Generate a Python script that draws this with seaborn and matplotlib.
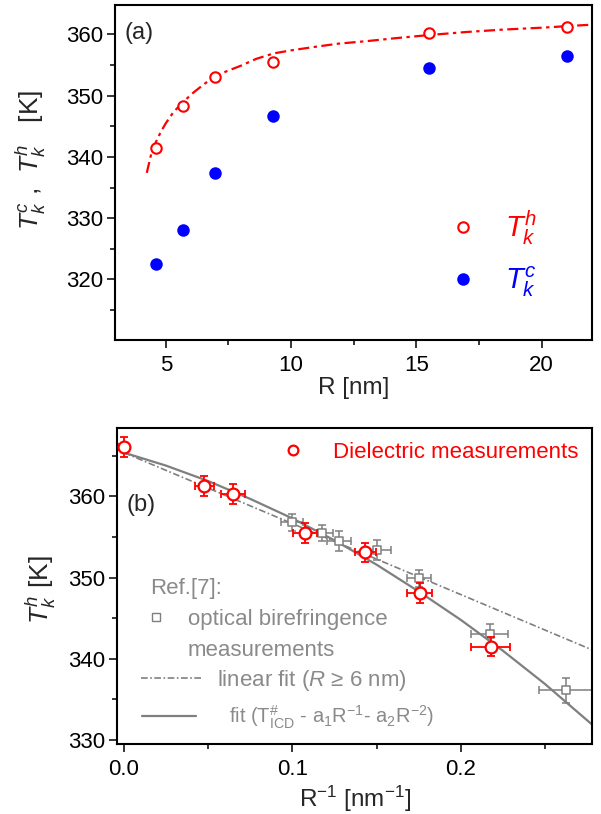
import matplotlib
matplotlib.use("Agg")
import matplotlib.pyplot as plt
from matplotlib.lines import Line2D
from matplotlib.ticker import AutoMinorLocator, FormatStrFormatter
import seaborn as sns

# panel (a): transition temperatures vs pore radius
R_nm = [4.59, 5.69, 6.98, 9.29, 15.5, 21.0]
Th_top = [341.5, 348.3, 353.1, 355.5, 360.3, 361.2]
Tc_top = [322.5, 328.1, 337.4, 346.6, 354.6, 356.5]

# fit curve
fit_R = [4.24, 4.4, 4.6, 4.8, 5.0, 5.3, 5.7, 6.1, 6.5, 7.0, 7.5, 8.0, 8.6, 9.3,
         10.0, 11.0, 11.9, 13.0, 14.2, 15.5, 17.0, 18.5, 20.0, 22.0]
fit_T = [337.4, 340.2, 342.4, 344.1, 345.5, 347.3, 349.0, 350.5, 351.8, 353.3,
         354.1, 354.9, 356.0, 356.9, 357.4, 358.0, 358.5, 358.9, 359.4, 359.9,
         360.4, 360.8, 361.1, 361.6]

# panel (b): T_k^h vs 1/R
inv_R = [0.0, 0.0476, 0.0645, 0.1075, 0.1433, 0.1757, 0.2179]
Th_diel = [366.1, 361.3, 360.3, 355.5, 353.1, 348.1, 341.5]
xerr_diel = [0.003, 0.0056, 0.0072, 0.0072, 0.0064, 0.0074, 0.0116]
yerr_diel = [1.2, 1.2, 1.2, 1.2, 1.2, 1.2, 1.2]

opt_invR = [0.0999, 0.1173, 0.1278, 0.1505, 0.1752, 0.2172, 0.2627]
opt_T = [356.8, 355.5, 354.5, 353.4, 349.9, 343.0, 336.1]
opt_xerr = [0.0065, 0.007, 0.007, 0.008, 0.007, 0.011, 0.016]
opt_yerr = [1.1, 1.0, 1.2, 1.2, 1.1, 1.3, 1.5]

lin_x = [0.0, 0.278]
lin_T = [365.4, 341.1]

curve_x = [0.0, 0.025, 0.05, 0.075, 0.1, 0.125, 0.15, 0.175, 0.2, 0.225, 0.25, 0.278]
curve_T = [365.4, 363.8, 361.9, 359.7, 357.3, 354.6, 351.6, 348.3, 344.8, 341.0, 336.9, 331.9]

RED = "#ff0000"
BLUE = "#0000ff"
GRAY = "#7f7f7f"
GRAY_TXT = "#8a8a8a"

sns.set_style("ticks")
plt.rcParams["font.family"] = ["Liberation Sans", "DejaVu Sans"]
plt.rcParams["mathtext.fontset"] = "custom"
plt.rcParams["mathtext.rm"] = "Liberation Sans"
plt.rcParams["mathtext.it"] = "Liberation Sans:italic"
plt.rcParams["mathtext.bf"] = "Liberation Sans:bold"
plt.rcParams.update({
    "axes.linewidth": 1.5,
    "axes.edgecolor": "black",
    "xtick.major.size": 6, "ytick.major.size": 6,
    "xtick.minor.size": 3.6, "ytick.minor.size": 3.6,
    "xtick.major.width": 1.1, "ytick.major.width": 1.1,
    "xtick.minor.width": 1.1, "ytick.minor.width": 1.1,
    "xtick.major.pad": 4.5, "ytick.major.pad": 2.5,
    "xtick.labelsize": 16, "ytick.labelsize": 16,
    "xtick.color": "black", "ytick.color": "black",
    "axes.labelsize": 17.5,
})

fig = plt.figure(figsize=(6.01, 8.14), dpi=100)
ax1 = fig.add_axes([0.1913, 0.5823, 0.7932, 0.4115])
ax2 = fig.add_axes([0.1952, 0.0860, 0.7899, 0.3878])

# ---- (a) ----
sns.lineplot(x=fit_R, y=fit_T, ax=ax1, color=RED, lw=1.6, sort=False,
             linestyle=(0, (5, 2, 1.5, 2)), zorder=2)
sns.scatterplot(x=R_nm, y=Th_top, ax=ax1, marker="o", s=7.5 ** 2,
                facecolor="white", edgecolor=RED, linewidth=1.5, zorder=3)
sns.scatterplot(x=R_nm, y=Tc_top, ax=ax1, marker="o", s=9 ** 2,
                color=BLUE, edgecolor=BLUE, linewidth=0, zorder=3)

ax1.set_xlim(2.97, 22.0)
ax1.set_ylim(310.1, 364.8)
ax1.set_xticks([5, 10, 15, 20])
ax1.set_yticks([320, 330, 340, 350, 360])
ax1.xaxis.set_minor_locator(AutoMinorLocator(2))
ax1.yaxis.set_minor_locator(AutoMinorLocator(2))
ax1.set_xlabel("R [nm]", labelpad=1)
ax1.set_ylabel(r"$T_k^c$ ,  $T_k^h$   [K]", fontsize=19)
ax1.yaxis.set_label_coords(-0.14, 0.537)
ax1.text(0.021, 0.916, "(a)", transform=ax1.transAxes, fontsize=17,
         ha="left", va="center")

h_hot = Line2D([], [], ls="none", marker="o", ms=7.5, mfc="white", mec=RED, mew=1.5)
h_cold = Line2D([], [], ls="none", marker="o", ms=9, mfc=BLUE, mec=BLUE, mew=0)
ax1.legend([h_hot, h_cold], [r"$T_k^h$", r"$T_k^c$"], loc="center left",
           bbox_to_anchor=(0.699, 0.257), frameon=False, fontsize=21,
           handlelength=1.0, handletextpad=0.95, labelspacing=0.6,
           borderpad=0, borderaxespad=0, labelcolor=[RED, BLUE])

# ---- (b) ----
sns.lineplot(x=lin_x, y=lin_T, ax=ax2, color=GRAY, lw=1.2, sort=False,
             linestyle=(0, (4, 1.5, 1, 1.5)), zorder=1)
sns.lineplot(x=curve_x, y=curve_T, ax=ax2, color=GRAY, lw=1.6, sort=False, zorder=1)

ax2.errorbar(opt_invR, opt_T, xerr=opt_xerr, yerr=opt_yerr, fmt="none",
             ecolor=GRAY, elinewidth=1.1, capsize=2.6, capthick=1.1, zorder=2)
sns.scatterplot(x=opt_invR, y=opt_T, ax=ax2, marker="s", s=5.5 ** 2,
                facecolor="white", edgecolor=GRAY, linewidth=1.1, zorder=3)
ax2.errorbar(inv_R, Th_diel, xerr=xerr_diel, yerr=yerr_diel, fmt="none",
             ecolor=RED, elinewidth=1.3, capsize=2.8, capthick=1.3, zorder=4)
sns.scatterplot(x=inv_R, y=Th_diel, ax=ax2, marker="o", s=8.5 ** 2,
                facecolor="white", edgecolor=RED, linewidth=1.6, zorder=5)

ax2.set_xlim(-0.004, 0.278)
ax2.set_ylim(329.5, 368.4)
ax2.set_xticks([0.0, 0.1, 0.2])
ax2.set_yticks([330, 340, 350, 360])
ax2.xaxis.set_major_formatter(FormatStrFormatter("%.1f"))
ax2.xaxis.set_minor_locator(AutoMinorLocator(2))
ax2.yaxis.set_minor_locator(AutoMinorLocator(2))
ax2.set_xlabel(r"R$^{-1}$ [nm$^{-1}$]", labelpad=3)
ax2.set_ylabel(r"$T_k^h$ [K]", fontsize=19)
ax2.yaxis.set_label_coords(-0.125, 0.488)
ax2.text(0.02, 0.757, "(b)", transform=ax2.transAxes, fontsize=17,
         ha="left", va="center")

h_diel = Line2D([], [], ls="none", marker="o", ms=7, mfc="white", mec=RED, mew=1.6)
leg_a = ax2.legend([h_diel], ["Dielectric measurements"], loc="center left",
                   bbox_to_anchor=(0.349, 0.924), frameon=False, fontsize=16,
                   handlelength=0.9, handletextpad=1.35, borderpad=0,
                   borderaxespad=0, labelcolor=RED)
ax2.add_artist(leg_a)

h_sq = Line2D([], [], ls="none", marker="s", ms=6, mfc="white", mec=GRAY, mew=1.0)
h_blank = Line2D([], [], ls="none")
leg_b = ax2.legend([h_sq, h_blank], ["optical birefringence", "measurements"],
                   title="Ref.[7]:", title_fontsize=16, alignment="left",
                   loc="upper left", bbox_to_anchor=(0.069, 0.527), frameon=False,
                   fontsize=16, handlelength=0.55, handletextpad=1.15,
                   labelspacing=0.45, borderpad=0, borderaxespad=0,
                   labelcolor=GRAY_TXT)
leg_b.get_title().set_color(GRAY_TXT)
ax2.add_artist(leg_b)

h_lin = Line2D([], [], color=GRAY, lw=1.2, linestyle=(0, (4, 1.5, 1, 1.5)))
leg_c = ax2.legend([h_lin], [r"linear fit ($R$ ≥ 6 nm)"], loc="center left",
                   bbox_to_anchor=(0.0493, 0.2027), frameon=False, fontsize=16,
                   handlelength=2.75, handletextpad=0.7, borderpad=0,
                   borderaxespad=0, labelcolor=GRAY_TXT)
ax2.add_artist(leg_c)

h_fit = Line2D([], [], color=GRAY, lw=1.6)
ax2.legend([h_fit], [r"fit (T$^{\#}_{\rm ICD}$ - a$_1$R$^{-1}$- a$_2$R$^{-2}$)"],
           loc="center left", bbox_to_anchor=(0.0514, 0.0846), frameon=False,
           fontsize=14.5, handlelength=2.72, handletextpad=1.6, borderpad=0,
           borderaxespad=0, labelcolor=GRAY_TXT)

fig.savefig("out.png", dpi=100)
